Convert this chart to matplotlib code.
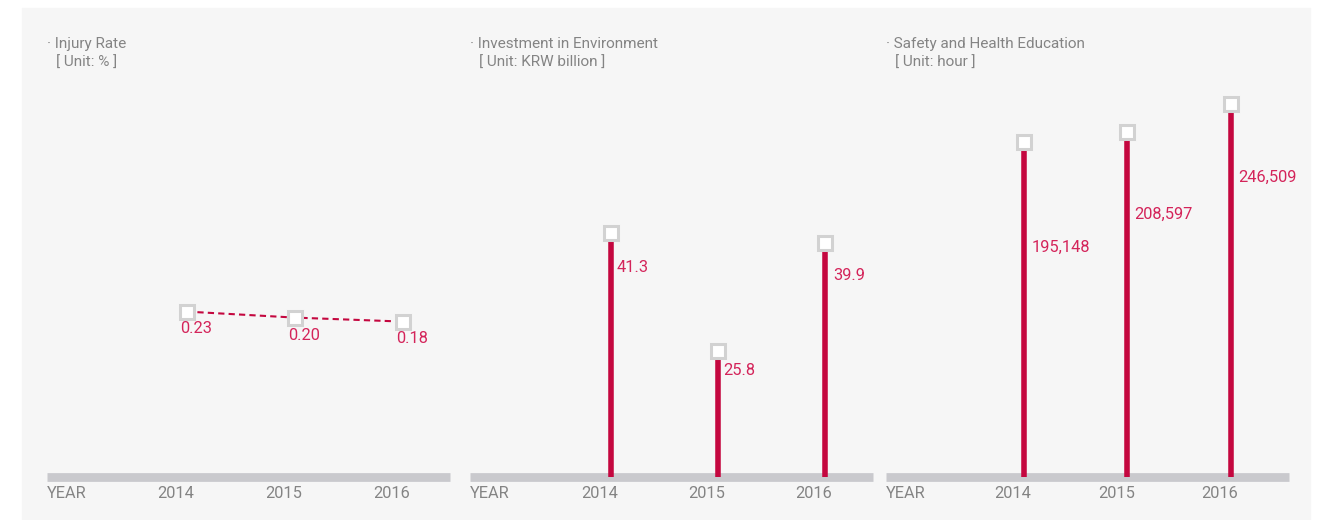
import matplotlib.pyplot as plt
from matplotlib.patches import Rectangle

plt.rcParams['font.family'] = ['Roboto', 'DejaVu Sans']

# Data
years = ["2014", "2015", "2016"]
injury_rate = [0.23, 0.20, 0.18]
investment = [41.3, 25.8, 39.9]
education = [195148, 208597, 246509]

titles = ["· Injury Rate", "· Investment in Environment", "· Safety and Health Education"]
units = ["[ Unit: % ]", "[ Unit: KRW billion ]", "[ Unit: hour ]"]
value_labels = [["0.23", "0.20", "0.18"], ["41.3", "25.8", "39.9"],
                ["195,148", "208,597", "246,509"]]

RED = "#c4073f"
LABEL_RED = "#d4245a"
GRAY_TXT = "#848484"
BAND = "#c9c9cd"

W, H = 1328, 520
fig = plt.figure(figsize=(W / 100, H / 100), dpi=100)
fig.patch.set_facecolor("white")
fig.patches.append(Rectangle((22 / W, 0), (1310 - 22) / W, (H - 8) / H,
                             transform=fig.transFigure, color="#f6f6f6", zorder=-5))

# panel layout (pixels): left edge, y-limits, x-limits, label offsets
lefts = [47, 470, 886]
ylims = [(-0.597, 1.403), (9.4, 61.6), (-252500, 282700)]
xlims = [(-1.296, 2.435), (-1.32, 2.45), (-1.33, 2.56)]
label_offsets = [[(-7, -17), (-7, -18), (-7, -17)],
                 [(5, -35), (5, -19), (8, -32)],
                 [(8, -105), (7, -82), (7, -73)]]
series = [injury_rate, investment, education]

for k in range(3):
    ax = fig.add_axes([lefts[k] / W, (H - 477) / H, 403 / W, 400 / H])
    ax.set_xlim(*xlims[k])
    ax.set_ylim(*ylims[k])
    ax.axis("off")
    lo = ylims[k][0]
    xs = [0, 1, 2]
    vals = series[k]

    ax.axhline(lo, color=BAND, lw=6.3, zorder=1, clip_on=False,
               solid_capstyle="butt")

    if k == 0:
        ax.plot(xs, vals, color=RED, lw=1.5, ls=(0, (3, 2)), zorder=2)
    else:
        ax.vlines(xs, lo, vals, color=RED, lw=4.0, zorder=2, clip_on=False)
    ax.plot(xs, vals, ls="none", marker="s", ms=9.5, mfc="white",
            mec="#d2d2d2", mew=2.2, zorder=3, clip_on=False)

    for i, (x, v) in enumerate(zip(xs, vals)):
        dx, dy = label_offsets[k][i]
        ax.annotate(value_labels[k][i], (x, v), xytext=(dx, dy),
                    textcoords="offset pixels", ha="left", va="center",
                    fontsize=11.8, color=LABEL_RED)
        ax.annotate(years[i], (x, 0), xycoords=("data", "axes fraction"),
                    xytext=(-11, -17), textcoords="offset pixels",
                    ha="center", va="center", fontsize=11.8, color=GRAY_TXT)

    ax.annotate("YEAR", (0, 0), xycoords="axes fraction", xytext=(0, -17),
                textcoords="offset pixels", ha="left", va="center",
                fontsize=11.8, color=GRAY_TXT)

    fig.text(lefts[k] / W, (H - 44) / H, titles[k], ha="left", va="center",
             fontsize=11, color=GRAY_TXT)
    fig.text((lefts[k] + 9) / W, (H - 63) / H, units[k], ha="left", va="center",
             fontsize=11, color=GRAY_TXT)

fig.savefig("out.png", dpi=100, facecolor=fig.get_facecolor())
